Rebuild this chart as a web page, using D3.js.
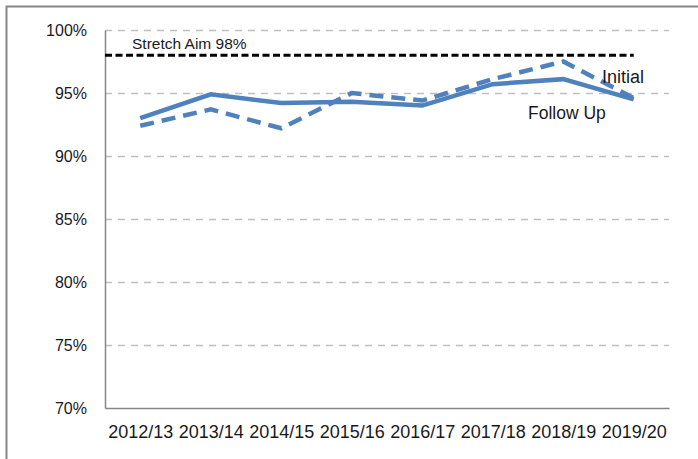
<!DOCTYPE html>
<html>
<head>
<meta charset="utf-8">
<script src="https://cdn.jsdelivr.net/npm/d3@7"></script>
<style>
  body { margin: 0; background: #fff; }
  svg { display: block; font-family: "Liberation Sans", Arial, sans-serif; }
</style>
</head>
<body>
<div id="chart"></div>
<script>
// data
var years = ["2012/13", "2013/14", "2014/15", "2015/16", "2016/17", "2017/18", "2018/19", "2019/20"];
var followUp = [93.0, 94.9, 94.2, 94.3, 94.0, 95.7, 96.1, 94.5];
var initial = [92.4, 93.7, 92.2, 95.0, 94.4, 96.1, 97.5, 94.6];
var stretchAim = 98;
var yTicks = [70, 75, 80, 85, 90, 95, 100];

var width = 698, height = 459;
var plot = {left: 105, right: 669, top: 30, bottom: 408};

var svg = d3.select("#chart")
  .append("svg")
  .attr("width", width)
  .attr("height", height);

// outer frame (runs off the right / bottom of the picture)
svg.append("rect")
  .attr("x", 6.5).attr("y", 6.5)
  .attr("width", 800).attr("height", 600)
  .attr("fill", "none")
  .attr("stroke", "#878787")
  .attr("stroke-width", 2);

var x = d3.scalePoint()
  .domain(years)
  .range([plot.left, plot.right])
  .padding(0.5);

var y = d3.scaleLinear()
  .domain([70, 100])
  .range([plot.bottom, plot.top]);

// gridlines
svg.append("g")
  .selectAll("line")
  .data(yTicks.filter(function(d) { return d > 70; }))
  .enter()
  .append("line")
  .attr("x1", plot.left)
  .attr("x2", plot.right)
  .attr("y1", function(d) { return Math.round(y(d)) + 0.5; })
  .attr("y2", function(d) { return Math.round(y(d)) + 0.5; })
  .attr("stroke", "#c0c0c0")
  .attr("stroke-width", 1.5)
  .attr("stroke-dasharray", "7,6");

// y axis
var yAxis = svg.append("g")
  .attr("transform", "translate(" + plot.left + ",0)")
  .call(d3.axisLeft(y).tickValues(yTicks).tickSize(0).tickPadding(18)
    .tickFormat(function(d) { return d + "%"; }));
yAxis.select(".domain").attr("stroke", "#868686").attr("stroke-width", 1.5);
yAxis.selectAll("text")
  .style("font-size", "16px")
  .style("font-family", "Liberation Sans, Arial, sans-serif")
  .attr("fill", "#1a1a1a");

// x axis
var xAxis = svg.append("g")
  .attr("transform", "translate(0," + plot.bottom + ")")
  .call(d3.axisBottom(x).tickSize(0).tickPadding(17));
xAxis.select(".domain").attr("stroke", "#868686").attr("stroke-width", 1.5);
xAxis.selectAll("text")
  .style("font-size", "18px")
  .style("font-family", "Liberation Sans, Arial, sans-serif")
  .attr("fill", "#1a1a1a");

// stretch aim line
svg.append("line")
  .attr("x1", plot.left)
  .attr("x2", x(years[years.length - 1]))
  .attr("y1", y(stretchAim))
  .attr("y2", y(stretchAim))
  .attr("stroke", "#000")
  .attr("stroke-width", 3)
  .attr("stroke-dasharray", "7,3.5");

var line = d3.line()
  .x(function(d, i) { return x(years[i]); })
  .y(function(d) { return y(d); });

// initial (dashed)
svg.append("path")
  .datum(initial)
  .attr("d", line)
  .attr("fill", "none")
  .attr("stroke", "#4f81bd")
  .attr("stroke-width", 4.5)
  .attr("stroke-dasharray", "14,8");

// follow up (solid)
svg.append("path")
  .datum(followUp)
  .attr("d", line)
  .attr("fill", "none")
  .attr("stroke", "#4f81bd")
  .attr("stroke-width", 4.5);

// labels
svg.append("text")
  .attr("x", 132).attr("y", 49)
  .style("font-size", "15.5px")
  .attr("fill", "#1a1a1a")
  .text("Stretch Aim 98%");

svg.append("text")
  .attr("x", 602).attr("y", 83)
  .style("font-size", "18px")
  .attr("fill", "#1a1a1a")
  .text("Initial");

svg.append("text")
  .attr("x", 528).attr("y", 119)
  .style("font-size", "17.5px")
  .attr("fill", "#1a1a1a")
  .text("Follow Up");
</script>
</body>
</html>
